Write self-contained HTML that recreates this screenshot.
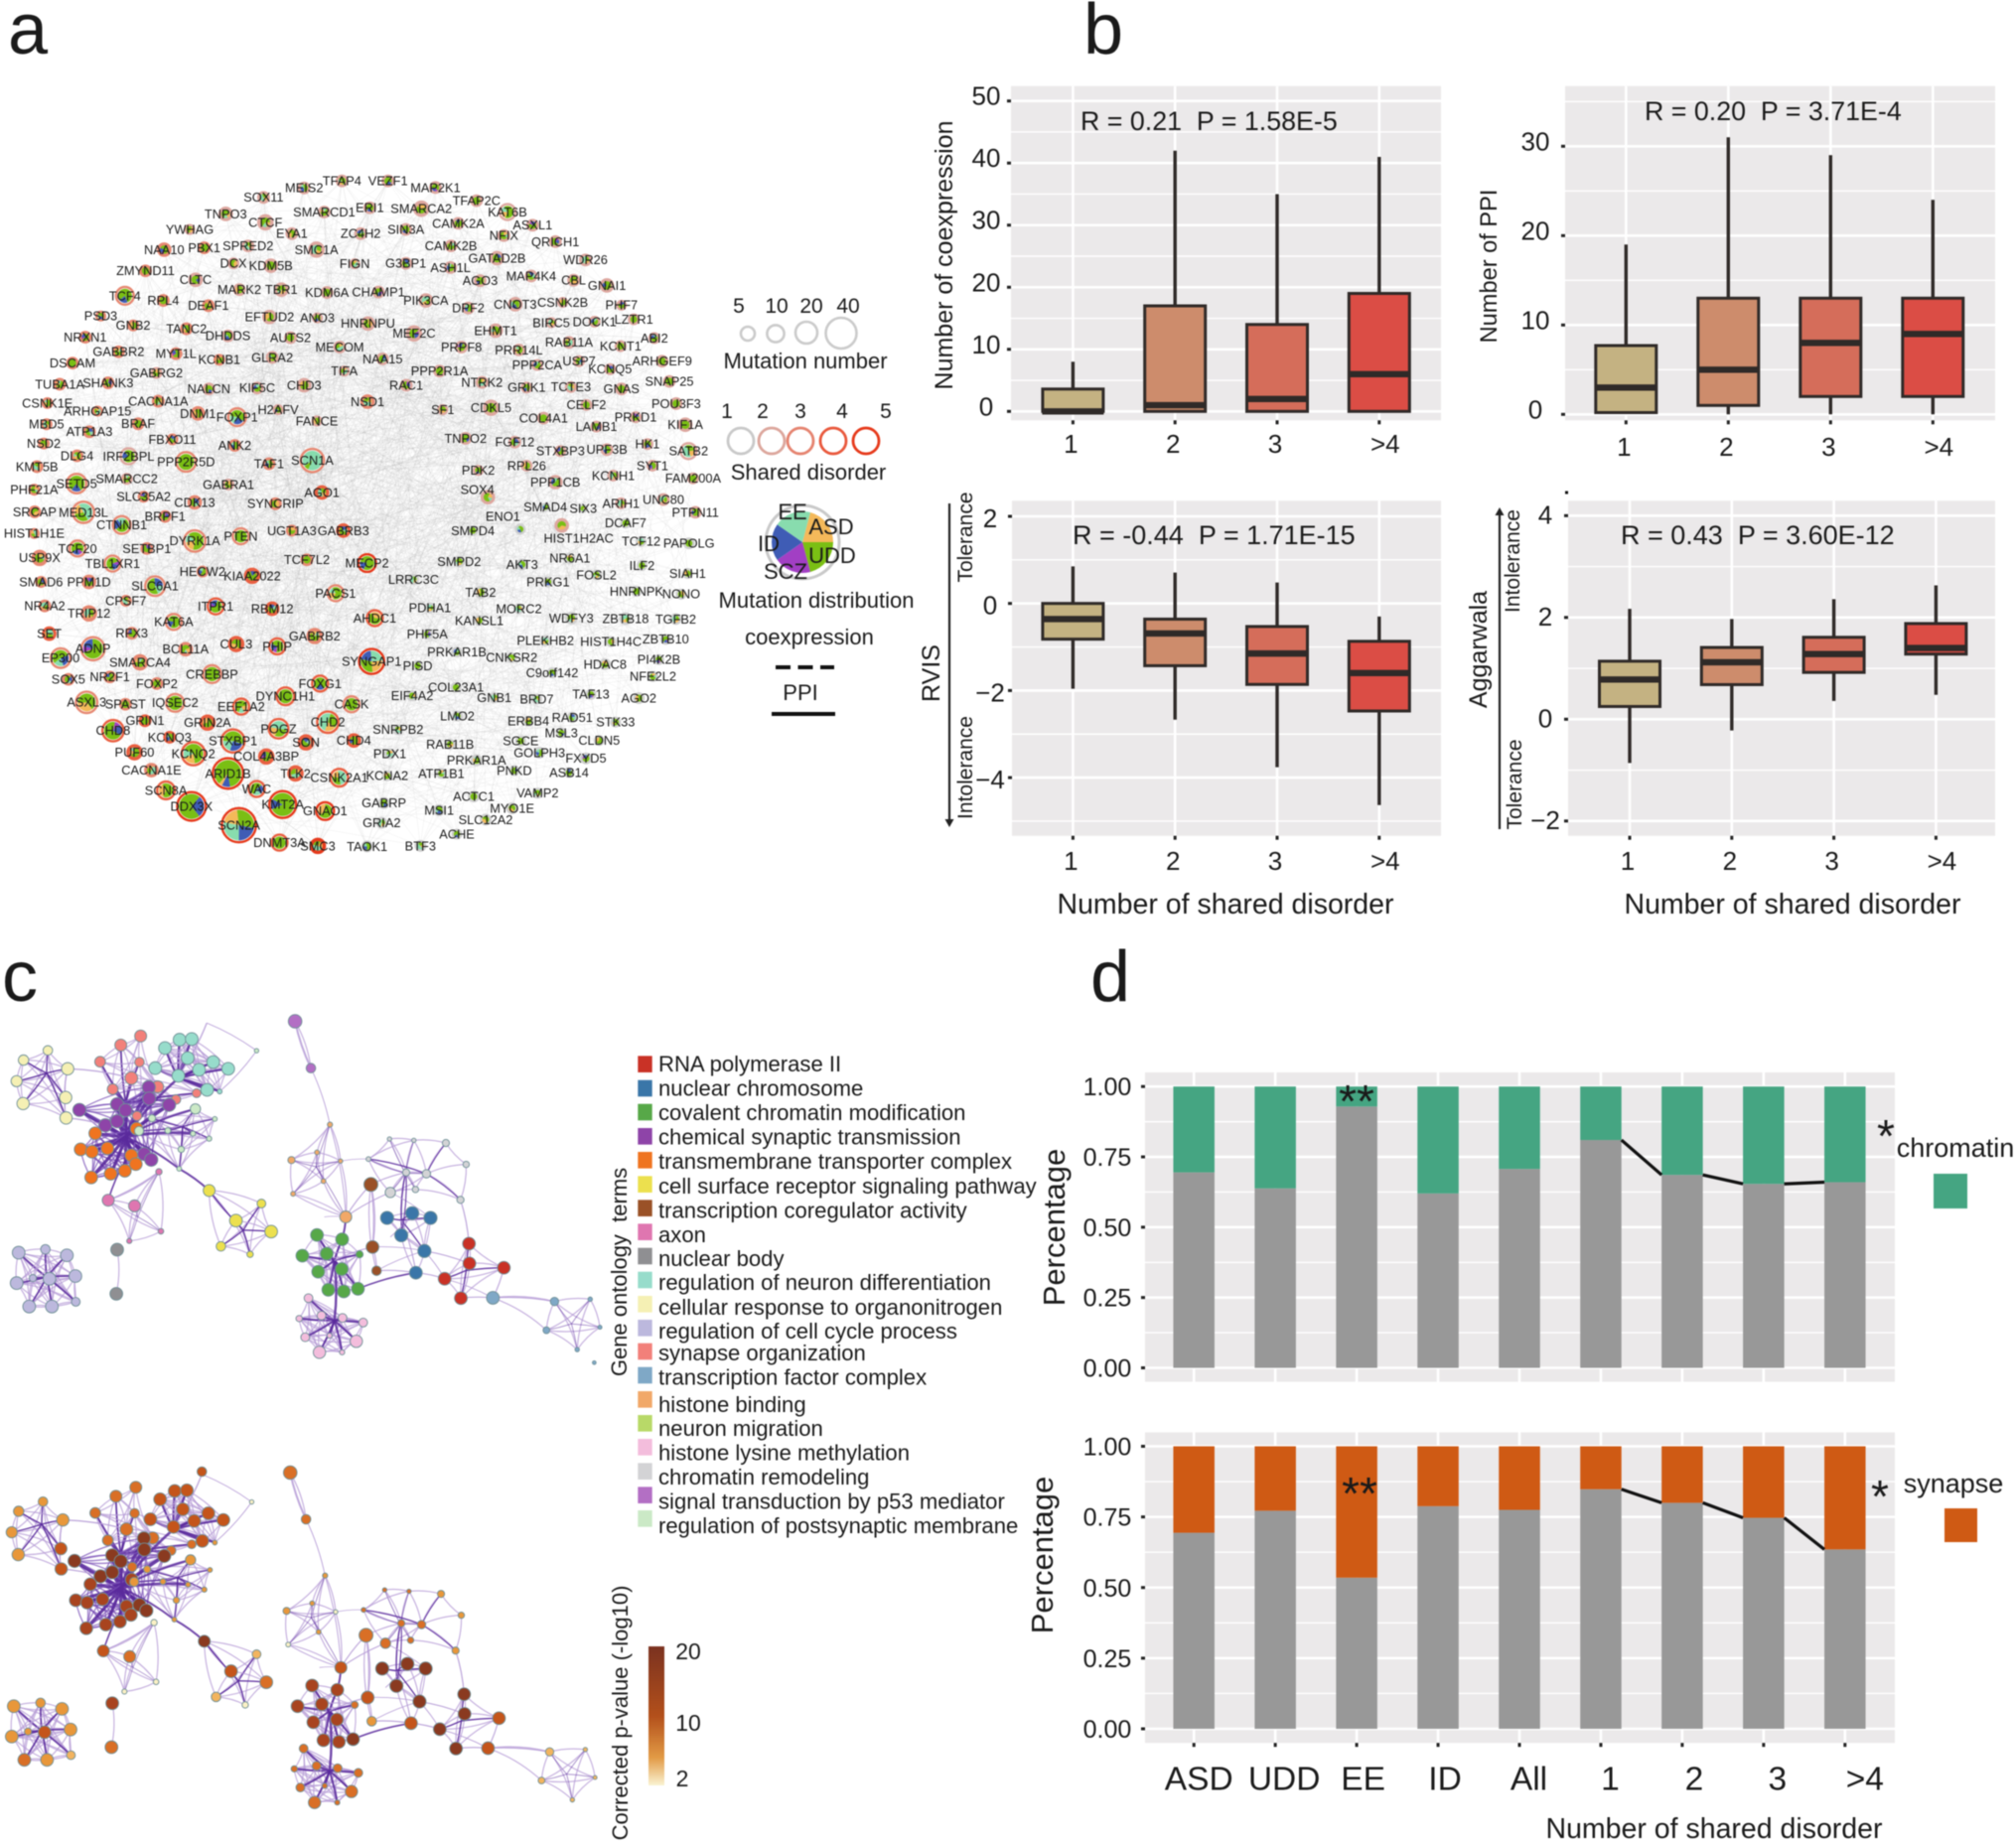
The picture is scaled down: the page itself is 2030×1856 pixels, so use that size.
<!DOCTYPE html>
<html lang="en">
<head>
<meta charset="utf-8">
<title>Multi-panel figure: shared disorder gene network, box plots, GO networks and stacked bars</title>
<style>
html,body{margin:0;padding:0;background:#fff;}
svg{display:block;font-family:"Liberation Sans",sans-serif;fill:#1a1a1a;filter:blur(0.5px);}
text{fill:#1a1a1a;}
</style>
</head>
<body>
<svg id="figure" xmlns="http://www.w3.org/2000/svg" width="2030" height="1856" viewBox="0 0 2030 1856">
<defs>
<linearGradient id="pvalue-gradient" x1="0" y1="0" x2="0" y2="1">
<stop offset="0" stop-color="#7b3220"/><stop offset="0.5" stop-color="#b3501b"/><stop offset="0.8" stop-color="#e29a45"/><stop offset="1" stop-color="#faf3d2"/>
</linearGradient>
</defs>
<rect x="0" y="0" width="2030" height="1856" fill="#ffffff"/>

<text x="8" y="54" font-size="72">a</text>
<text x="1091" y="54" font-size="72">b</text>
<text x="2" y="1008" font-size="72">c</text>
<text x="1098" y="1008" font-size="72">d</text>

<g id="gene-network"></g>

<g id="network-legend">
<text x="744" y="315" font-size="21" text-anchor="middle">5</text>
<text x="782" y="315" font-size="21" text-anchor="middle">10</text>
<text x="817" y="315" font-size="21" text-anchor="middle">20</text>
<text x="854" y="315" font-size="21" text-anchor="middle">40</text>
<circle cx="753" cy="336" r="7" fill="none" stroke="#cbcbcb" stroke-width="2.6"/>
<circle cx="781" cy="336" r="8.6" fill="none" stroke="#cbcbcb" stroke-width="2.6"/>
<circle cx="812" cy="335" r="11" fill="none" stroke="#cbcbcb" stroke-width="2.6"/>
<circle cx="847" cy="335.5" r="15.5" fill="none" stroke="#cbcbcb" stroke-width="2.6"/>
<text x="811" y="371" font-size="22" text-anchor="middle">Mutation number</text>
<text x="732" y="421" font-size="21" text-anchor="middle">1</text>
<text x="768" y="421" font-size="21" text-anchor="middle">2</text>
<text x="806" y="421" font-size="21" text-anchor="middle">3</text>
<text x="848" y="421" font-size="21" text-anchor="middle">4</text>
<text x="892" y="421" font-size="21" text-anchor="middle">5</text>
<circle cx="746" cy="444" r="13" fill="none" stroke="#c9c9c9" stroke-width="2.8"/>
<circle cx="777" cy="444" r="13" fill="none" stroke="#dca69c" stroke-width="2.8"/>
<circle cx="806" cy="444" r="13" fill="none" stroke="#e5836f" stroke-width="2.8"/>
<circle cx="839" cy="444" r="13" fill="none" stroke="#e9583c" stroke-width="2.8"/>
<circle cx="872" cy="444" r="13" fill="none" stroke="#e6391a" stroke-width="2.8"/>
<text x="814" y="483" font-size="22" text-anchor="middle">Shared disorder</text>
<circle cx="808" cy="546" r="37" fill="none" stroke="#c9c9c9" stroke-width="3"/>
<g id="legend-pie"></g>
<text x="798" y="523" font-size="22" text-anchor="middle">EE</text>
<text x="837" y="538" font-size="22" text-anchor="middle">ASD</text>
<text x="774" y="555" font-size="22" text-anchor="middle">ID</text>
<text x="838" y="567" font-size="22" text-anchor="middle">UDD</text>
<text x="791" y="583" font-size="22" text-anchor="middle">SCZ</text>
<text x="822" y="612" font-size="22" text-anchor="middle">Mutation distribution</text>
<text x="815" y="649" font-size="22" text-anchor="middle">coexpression</text>
<line x1="781" y1="672" x2="840" y2="672" stroke="#111" stroke-width="4" stroke-dasharray="15 7.5"/>
<text x="806" y="705" font-size="22" text-anchor="middle">PPI</text>
<line x1="777" y1="719" x2="841" y2="719" stroke="#111" stroke-width="4"/>
</g>

<g id="box-coex"></g>
<g id="box-ppi"></g>
<g id="box-rvis"></g>
<g id="box-agg"></g>

<text transform="translate(959,257) rotate(-90)" font-size="25" text-anchor="middle">Number of coexpression</text>
<text transform="translate(1507,268) rotate(-90)" font-size="23.6" text-anchor="middle">Number of PPI</text>
<text transform="translate(946,678) rotate(-90)" font-size="25" text-anchor="middle">RVIS</text>
<text transform="translate(1497,654) rotate(-90)" font-size="25" text-anchor="middle">Aggarwala</text>

<text x="1088" y="131" font-size="26.8">R = 0.21&#160;&#160;P = 1.58E-5</text>
<text x="1656" y="121" font-size="26.8">R = 0.20&#160;&#160;P = 3.71E-4</text>
<text x="1080" y="548" font-size="27">R = -0.44&#160;&#160;P = 1.71E-15</text>
<text x="1632" y="548" font-size="27">R = 0.43&#160;&#160;P = 3.60E-12</text>

<text x="1234" y="920" font-size="28.5" text-anchor="middle">Number of shared disorder</text>
<text x="1805" y="920" font-size="28.5" text-anchor="middle">Number of shared disorder</text>

<text transform="translate(979,541) rotate(-90)" font-size="21" text-anchor="middle">Tolerance</text>
<text transform="translate(979,773) rotate(-90)" font-size="21" text-anchor="middle">Intolerance</text>
<line x1="956" y1="507" x2="956" y2="829" stroke="#222" stroke-width="2.2"/>
<path d="M951.5 825 L956 833 L960.5 825 Z" fill="#222"/>
<text transform="translate(1530,565) rotate(-90)" font-size="21" text-anchor="middle">Intolerance</text>
<text transform="translate(1532,790) rotate(-90)" font-size="21" text-anchor="middle">Tolerance</text>
<line x1="1510" y1="515" x2="1510" y2="835" stroke="#222" stroke-width="2.2"/>
<path d="M1505.5 519 L1510 511 L1514.5 519 Z" fill="#222"/>
<rect x="1576" y="494.5" width="3" height="3" fill="#111"/>

<g id="go-network-top"></g>
<g id="go-network-bottom"></g>

<text transform="translate(631,1281) rotate(-90)" font-size="22" text-anchor="middle" xml:space="preserve">Gene ontology&#160;&#160;terms</text>
<g id="go-legend"></g>

<text transform="translate(632,1725) rotate(-90)" font-size="22" text-anchor="middle">Corrected p-value (-log10)</text>
<rect x="653" y="1658" width="16" height="140" fill="url(#pvalue-gradient)"/>
<text x="693" y="1671" font-size="23" text-anchor="middle">20</text>
<text x="693" y="1743" font-size="23" text-anchor="middle">10</text>
<text x="687" y="1799" font-size="23" text-anchor="middle">2</text>

<g id="bars-chromatin"></g>
<g id="bars-synapse"></g>
<text transform="translate(1072,1236) rotate(-90)" font-size="31" text-anchor="middle">Percentage</text>
<text transform="translate(1060,1566) rotate(-90)" font-size="31" text-anchor="middle">Percentage</text>
<text x="1726" y="1851" font-size="28.5" text-anchor="middle">Number of shared disorder</text>
<text x="1366" y="1125" font-size="46" text-anchor="middle">**</text>
<text x="1369" y="1520" font-size="46" text-anchor="middle">**</text>
<text x="1899" y="1160" font-size="46" text-anchor="middle">*</text>
<text x="1893" y="1523" font-size="46" text-anchor="middle">*</text>
<text x="1969" y="1165" font-size="27" text-anchor="middle">chromatin</text>
<rect x="1947" y="1182" width="34" height="35" fill="#45a582"/>
<text x="1967" y="1503" font-size="27" text-anchor="middle">synapse</text>
<rect x="1958" y="1519" width="33" height="34" fill="#cf5a14"/>
</svg>

<script>
/* ---------- box plot data ---------- */
const disorderCategories = ['1', '2', '3', '>4'];

const coexTicks = [0, 10, 20, 30, 40, 50];
const coexWhiskerLow = [0, 0, 0, 0];
const coexQ1 = [0, 0, 0, 0];
const coexMedian = [0, 1, 2, 6];
const coexQ3 = [3.6, 17, 14, 19];
const coexWhiskerHigh = [8, 42, 35, 41];

const ppiTicks = [0, 10, 20, 30];
const ppiWhiskerLow = [0.2, 0, 0, 0];
const ppiQ1 = [0.2, 1, 2, 2];
const ppiMedian = [3, 5, 8, 9];
const ppiQ3 = [7.7, 13, 13, 13];
const ppiWhiskerHigh = [19, 31, 29, 24];

const rvisTicks = [-4, -2, 0, 2];
const rvisWhiskerLow = [-1.96, -2.67, -3.76, -4.63];
const rvisQ1 = [-0.82, -1.43, -1.86, -2.47];
const rvisMedian = [-0.36, -0.69, -1.15, -1.6];
const rvisQ3 = [0, -0.36, -0.53, -0.87];
const rvisWhiskerHigh = [0.85, 0.71, 0.48, -0.3];

const aggTicks = [-2, 0, 2, 4];
const aggWhiskerLow = [-0.86, -0.22, 0.36, 0.48];
const aggQ1 = [0.25, 0.68, 0.92, 1.28];
const aggMedian = [0.78, 1.12, 1.28, 1.4];
const aggQ3 = [1.14, 1.41, 1.61, 1.88];
const aggWhiskerHigh = [2.17, 1.97, 2.36, 2.63];

/* ---------- stacked bar data ---------- */
const barCategories = ['ASD', 'UDD', 'EE', 'ID', 'All', '1', '2', '3', '>4'];
const barTicks = [0, 0.25, 0.5, 0.75, 1];
const chromatinGrayShare = [0.695, 0.638, 0.929, 0.62, 0.707, 0.81, 0.686, 0.654, 0.66];
const synapseGrayShare = [0.694, 0.772, 0.535, 0.788, 0.775, 0.848, 0.80, 0.747, 0.635];

/* ---------- GO legend ---------- */
const goTerms = ['RNA polymerase II', 'nuclear chromosome', 'covalent chromatin modification', 'chemical synaptic transmission', 'transmembrane transporter complex', 'cell surface receptor signaling pathway', 'transcription coregulator activity', 'axon', 'nuclear body', 'regulation of neuron differentiation', 'cellular response to organonitrogen', 'regulation of cell cycle process', 'synapse organization', 'transcription factor complex', 'histone binding', 'neuron migration', 'histone lysine methylation', 'chromatin remodeling', 'signal transduction by p53 mediator', 'regulation of postsynaptic membrane'];
const goColors = ['#c93226', '#3a76a8', '#57a848', '#8e44a8', '#ef7420', '#ece04e', '#9a5127', '#df76b0', '#8f8f92', '#97dccb', '#f5f0b4', '#bcb8dd', '#f2807a', '#7fa8c6', '#f1a868', '#b8d968', '#f3bddc', '#d3d3d5', '#b36fc4', '#cbe9c6'];
const goLegendSwatchRow = [95, 168, 240, 313, 385, 458, 530, 602, 675, 747, 820, 892, 963, 1035, 1108, 1180, 1252, 1325, 1397, 1468];
const goLegendTextRow = [95, 168, 242, 315, 388, 463, 537, 610, 682, 755, 829, 902, 968, 1041, 1123, 1196, 1269, 1342, 1416, 1489];

/* ---------- gene network: name x y ringRadius sharedLevel [labelX labelY] ---------- */
const geneNodes = ("TFAP4 750 68 14 2|MEIS2 667 83 14 2|VEZF1 851 68 14 2|MAP2K1 955 82 14 2|SOX11 578 103 14 2|TFAP2C 1045 110 14 2|ERI1 811 125 14 2|SMARCA2 924 127 18 2|KAT6B 1113 134 20 2|SMARCD1 711 134 14 2|TNPO3 495 138 16 2|CTCF 582 156 18 2|CAMK2A 1005 158 14 2|ASXL1 1168 162 14 2|YWHAG 416 171 12 2|SIN3A 890 171 14 2|ZC4H2 791 180 14 2|EYA1 640 180 14 2|NFIX 1105 184 14 2|QRICH1 1218 197 14 2|PBX1 448 210 14 3|NAA10 360 214 16 3|SPRED2 544 206 14 2|CAMK2B 989 206 14 2|SMC1A 694 214 18 2|WDR26 1284 236 14 2|GATAD2B 1090 232 16 2|DCX 512 243 13 2|KDM5B 594 248 16 2|FIGN 778 244 12 2|G3BP1 890 243 14 2|ASH1L 988 252 14 2|ZMYND11 319 259 14 3|MAP4K4 1165 270 14 2|CBL 1258 279 14 2|GNAI1 1331 290 16 2|CLTC 429 278 16 2|AGO3 1053 280 14 2|MARK2 525 299 14 2|TBR1 617 299 16 2|KDM6A 717 305 14 2|CHAMP1 830 304 14 2|TCF4 274 312 22 3|PIK3CA 934 322 16 2|RPL4 358 322 14 3|DEAF1 457 333 14 3|CNOT3 1130 330 16 2|CSNK2B 1234 326 12 2|PHF7 1363 332 12 2|DPF2 1027 338 14 2|PSD3 221 355 12 3|EFTUD2 591 357 16 2|ANO3 696 359 12 2|HNRNPU 807 371 16 2|BIRC5 1209 369 12 2|DOCK1 1304 367 13 2|LZTR1 1390 362 13 2|GNB2 292 375 13 3|TANC2 409 382 14 3|NRXN1 187 400 14 3|DHDDS 500 397 14 2|AUTS2 637 401 14 2|MEF2C 908 392 18 2|EHMT1 1087 386 16 2|ABI2 1435 402 13 2|GABBR2 260 431 14 3|MYT1L 386 435 14 3|RAB11A 1248 411 14 2|KCNT1 1361 419 13 2|PRPF8 1012 421 14 2|MECOM 745 421 14 2|PRR14L 1138 427 14 2|KCNB1 481 448 13 3|GLRA2 597 443 14 2|NAA15 839 446 14 2|DSCAM 159 455 14 3|PPP2CA 1178 459 13 2|USP7 1270 451 13 2|ARHGEF9 1452 451 14 2|KCNQ5 1338 468 13 2|TIFA 755 472 12 2|GABRG2 343 476 13 2|PPP2R1A 964 472 14 2|SNAP25 1468 494 14 2|TUBA1A 131 500 14 3|SHANK3 237 497 14 3|CHD3 667 502 16 2|NTRK2 1057 496 14 2|RAC1 891 502 14 2|KIF5C 564 508 14 2|NALCN 458 510 14 2|GRIK1 1155 507 13 2|TCTE3 1252 506 13 2|GNAS 1363 510 14 2|CSNK1E 104 540 13 3|CACNA1A 347 536 14 3|NSD1 806 537 16 3|CDKL5 1077 550 18 2|CELF2 1286 544 13 2|POU3F3 1483 541 14 2|ARHGAP15 214 557 12 3|DNM1 434 562 16 3|FOXP1 520 570 22 3|H2AFV 610 554 12 2|SF1 971 554 12 2|COL4A1 1192 572 14 2|PRKD1 1394 570 13 2|MBD5 102 585 13 3|BRAF 303 584 14 3|ATP1A3 196 601 14 3|FANCE 695 578 12 2|KIF1A 1503 586 16 2|LAMB1 1308 590 13 2|FBXO11 378 617 13 3|NSD2 96 626 13 3|ANK2 515 630 14 3|TNPO2 1021 615 14 2|FGF12 1129 623 14 2|HK1 1420 627 13 2|STXBP3 1229 642 13 2|UPF3B 1331 639 14 2|SATB2 1510 642 20 2|DLG4 169 652 14 3|IRF2BPL 282 653 20 2|PPP2R5D 408 665 24 3|SCN1A 685 662 28 3|TAF1 590 669 14 3|KMT5B 81 675 14 3|RPL26 1155 673 13 2|PDK2 1049 683 12 2|SYT1 1431 673 13 2|FAM200A 1520 700 13 2|PHF21A 75 724 13 3|SETD5 168 711 24 3|SMARCC2 278 701 13 2|KCNH1 1345 694 13 2|PPP1CB 1218 708 16 2|GABRA1 501 713 13 2|SOX4 1070 740 16 2 1047 724|AGO1 706 730 16 4|SLC35A2 315 739 13 3|CDK13 427 751 16 3|SRCAP 76 771 14 3|MED13L 183 772 26 3|SYNCRIP 604 754 14 3|ARIH1 1362 753 13 2|UNC80 1455 745 14 2|PTPN11 1525 772 14 2|SMAD4 1196 761 10 1|SIX3 1279 764 10 1|ENO1 1141 808 12 1 1103 781|BRPF1 362 781 14 3|CTNNB1 267 799 22 3|DCAF7 1372 795 12 1|HIST1H1E 75 817 12 3|SMPD4 1037 811 12 1|HIST1H2AC 1232 800 16 2 1269 827|DYRK1A 427 833 26 3|PTEN 528 823 20 3|UGT1A3 640 811 13 3|GABRB3 753 811 16 4|TCF12 1406 834 12 1|PAPOLG 1511 838 13 1|TCF20 170 849 20 3|SETBP1 322 849 14 3|USP9X 87 869 18 3|MECP2 805 880 22 5|TCF7L2 673 873 14 3|SMPD2 1007 877 13 1|AKT3 1145 883 13 1|NR6A1 1250 870 12 1|TBL1XR1 247 881 20 3|ILF2 1408 885 12 1|FOSL2 1308 905 12 1|SIAH1 1508 902 12 1|PRKG1 1202 920 12 1|HECW2 444 898 13 3|KIAA2022 553 907 18 4|LRRC3C 907 915 12 1|SLC6A1 340 929 24 3|SMAD6 90 920 13 3|PPM1D 195 920 16 3|PACS1 736 944 20 3|TAB2 1054 942 14 1|HNRNPK 1396 940 12 1|NONO 1494 946 12 1|CPSF7 276 960 13 3|NR4A2 98 971 14 3|ITPR1 473 972 20 4|RBM12 597 977 16 4|TRIP12 195 987 18 3|PDHA1 943 975 12 1|MORC2 1138 977 12 1|KANSL1 1051 1002 12 1|KAT6A 381 1005 20 3|AHDC1 822 997 20 4|WDFY3 1253 997 14 1|ZBTB18 1372 998 14 1|TGFB2 1482 999 13 1|SET 108 1030 16 4|RFX3 289 1029 14 3|GABRB2 690 1035 18 3|PHF5A 937 1031 12 1|CUL3 518 1052 18 4|PHIP 608 1057 20 4|ADNP 204 1062 28 3|BCL11A 407 1063 16 3|PLEKHB2 1196 1045 12 1|HIST1H4C 1340 1047 12 1|ZBTB10 1460 1042 12 1|EP300 133 1082 24 3|SMARCA4 307 1091 18 3|SYNGAP1 815 1089 30 5|PRKAR1B 1002 1069 12 1|CNKSR2 1122 1081 12 1|PI4K2B 1445 1085 12 1|PISD 916 1098 12 1|CREBBP 465 1116 22 3|HDAC8 1327 1095 13 1|SOX5 150 1127 14 3|NR2F1 241 1122 14 3|C9orf142 1211 1113 12 1|NFE2L2 1432 1121 12 1|FOXP2 344 1136 14 3|FOXG1 702 1136 20 4|DYNC1H1 626 1163 22 4|COL23A1 1000 1144 12 1|EIF4A2 904 1162 12 1|TAF13 1296 1159 12 1|ASXL3 190 1176 26 3|SPAST 275 1180 14 3|IQSEC2 384 1177 22 3|CASK 771 1180 20 3|AGO2 1401 1167 13 1|GNB1 1084 1166 12 1|BRD7 1177 1169 12 1|EEF1A2 529 1185 20 4|LMO2 1003 1205 12 1|GRIN1 318 1215 14 4|GRIN2A 455 1219 18 4|CHD2 719 1218 26 4|POGZ 611 1232 24 4|CHD8 248 1236 26 4|ERBB4 1159 1216 12 1|RAD51 1255 1208 12 1|STK33 1350 1218 12 1|SNRPB2 873 1234 12 1|MSL3 1231 1241 12 1|KCNQ3 372 1250 14 4|STXBP1 511 1258 28 4|CHD4 776 1257 16 4|SON 671 1261 18 4|SGCE 1142 1258 12 1|CLDN5 1314 1257 12 1|RAB11B 987 1265 12 1|PUF60 295 1282 18 4|KCNQ2 424 1285 28 4|PDX1 855 1285 12 1|GOLPH3 1183 1283 13 1|FXYD5 1285 1295 13 1|COL4A3BP 584 1291 18 4|PRKAR1A 1045 1299 13 1|CACNA1E 332 1320 16 3|ARID1B 500 1327 36 5|PNKD 1128 1321 12 1|ASB14 1248 1325 12 1|TLK2 648 1327 18 4|CSNK2A1 744 1336 22 4|KCNA2 849 1332 12 1|ATP1B1 968 1327 12 1|SCN8A 364 1363 22 4|WAC 563 1360 20 4|ACTC1 1039 1376 13 1|VAMP2 1179 1369 12 1|DDX3X 420 1397 34 5|KMT2A 620 1393 32 5|GNAO1 713 1407 22 5|GABRP 842 1390 13 1|MSI1 963 1405 13 1|MYO1E 1123 1401 13 1|SCN2A 524 1437 40 5|GRIA2 837 1432 13 1|SLC12A2 1065 1425 13 1|ACHE 1002 1456 12 1|DNMT3A 613 1474 20 4|SMC3 697 1481 18 5|TAOK1 805 1482 13 1|BTF3 922 1481 13 1").split('|').map(s => s.split(' '));

const sharedLevelColors = ['#cfcfcf', '#dda79f', '#e68872', '#e95f41', '#e63a1c'];
const disorderColors = { asd: '#f4b95a', udd: '#7abf14', scz: '#a23fc4', id: '#3f5cb5', ee: '#88dcae' };
const legendPieDegrees = [75, 75, 70, 70, 70];
const legendPieOrder = ['asd', 'udd', 'scz', 'id', 'ee'];
const piePresets = [
  [['udd', 0.8], ['id', 0.2]],
  [['udd', 0.65], ['asd', 0.2], ['ee', 0.15]],
  [['udd', 0.55], ['id', 0.25], ['ee', 0.2]],
  [['udd', 1]],
  [['udd', 0.7], ['scz', 0.1], ['id', 0.2]],
  [['ee', 0.5], ['udd', 0.3], ['asd', 0.2]],
  [['asd', 0.35], ['udd', 0.65]]
];
const pieOverrides = {
  SCN2A: [['asd', 0.2], ['udd', 0.3], ['id', 0.22], ['ee', 0.28]],
  SCN1A: [['ee', 0.92], ['udd', 0.08]],
  SYNGAP1: [['asd', 0.25], ['udd', 0.3], ['id', 0.2], ['ee', 0.25]],
  ARID1B: [['udd', 0.86], ['id', 0.1], ['asd', 0.04]],
  DDX3X: [['udd', 0.72], ['id', 0.28]],
  KMT2A: [['udd', 0.86], ['id', 0.14]]
};

/* ---------- GO networks: zoomed layout units, each node [x, y, radius?, bottomColor?] ---------- */
const P = { d: '#8a3a20', c: '#a8441f', b: '#c4551b', o: '#d96f26', l: '#e8973a', y: '#f2b45f', p: '#fbf1c5' };
const goClusters = [
  { term: 9, base: P.b, r: 6.4, hub: [440, 225], hw: 2.2, reach: 180, nodes: [[443, 110], [473, 108], [407, 135], [463, 165], [383, 195], [440, 218], [491, 200], [526, 177], [563, 197], [511, 260], [542, 265, 2.4, P.l]] },
  { term: 12, base: P.o, r: 6, hub: [310, 300], hw: 1.8, reach: 200, nodes: [[347, 99], [298, 126], [344, 177, 4.8], [247, 176, 5.4], [324, 225, 6.4], [278, 258, 5.4], [389, 251, 6], [485, 270, 4.4], [434, 289, 4.8], [338, 338, 4.8]] },
  { term: 3, base: P.d, r: 6.6, hub: [310, 400], hw: 3.4, mid: 1, nodes: [[196, 320], [289, 303], [310, 321], [367, 252], [368, 286], [417, 305], [260, 366], [289, 354], [356, 452], [373, 469]] },
  { term: 4, base: P.c, r: 6.4, hub: [310, 400], hw: 3.2, mid: 1, nodes: [[235, 390], [199, 438], [227, 445], [265, 435], [337, 376], [324, 456], [335, 482], [308, 502], [273, 511], [225, 522]] },
  { term: 10, base: P.l, r: 6.2, hub: [115, 210], hw: 1.4, nodes: [[118, 142, 4.8], [58, 171, 5.2], [167, 197], [41, 234, 5.6], [162, 283, 6.2, P.b], [57, 301], [163, 344, 6.2, P.b]] },
  { term: 19, base: P.l, r: 3.2, hub: [450, 370], hw: 1.3, reach: 170, nodes: [[482, 317, 5.2], [375, 345, 3.6], [343, 383, 4.6], [414, 382, 3], [476, 391, 2.6], [516, 406, 2.6], [447, 438, 3.2], [442, 496, 2.4], [530, 347, 2.4], [633, 143, 2.2, P.p]] },
  { term: 7, base: P.l, r: 3.2, hub: [340, 640], hw: 0.8, nodes: [[392, 505, 3.2, P.p], [267, 590, 6, P.b], [332, 607, 6, P.o], [397, 683, 2.8, P.p], [319, 712, 2.6, P.p]] },
  { term: 5, base: P.b, r: 5, hub: [600, 680], hw: 1.4, nodes: [[516, 561, 6, P.d], [645, 600, 4.4, P.y], [582, 651, 6.4, P.b], [669, 684, 6.4, P.o], [545, 728, 4.8, P.y], [617, 752, 3.2, P.p]] },
  { term: 11, base: P.l, r: 6.4, hub: [115, 820], hw: 1.8, up: 112, nodes: [[46, 747], [112, 737, 4.8], [165, 755], [186, 817], [41, 838], [81, 823, 3.6], [122, 825, 6.4, P.b], [72, 908, 6.4, P.o], [128, 908, 6.4], [187, 894, 4.4, P.y]] },
  { term: 8, base: P.c, r: 6.4, up: 112, nodes: [[289, 738], [287, 870, 6.4, P.o]] },
  { term: 18, base: P.o, r: 6, nodes: [[728, 55, 6.8], [767, 195, 4.8]] },
  { term: 14, base: P.l, r: 3, hub: [780, 490], hw: 0.9, reach: 170, nodes: [[814, 364, 2.6], [719, 470, 3.6], [782, 447, 2.4], [840, 473, 2.2, P.p], [798, 533, 2.4], [723, 571, 2.4, P.p], [853, 640, 6, P.b]] },
  { term: 17, base: P.o, r: 3, hub: [1000, 510], hw: 1.1, reach: 130, nodes: [[961, 407, 2.2], [1021, 411, 2.2], [1100, 419, 3.6, P.l], [909, 467, 2.4], [1150, 483, 3.2, P.l], [1002, 507, 3.6], [1052, 511, 4.2], [963, 567, 5.2, P.o], [1025, 558, 3.2], [1136, 589, 3.6, P.l]] },
  { term: 6, base: P.b, r: 5.5, nodes: [[915, 543, 7, P.o], [919, 730, 6.4, P.b], [929, 801, 4.8, P.l]] },
  { term: 1, base: P.d, r: 6.6, hub: [990, 650], hw: 1.3, reach: 150, nodes: [[955, 643], [1017, 629], [1062, 643], [990, 695], [1047, 742], [1026, 807, 6.4, P.b]] },
  { term: 2, base: P.c, r: 6.4, hub: [825, 770], hw: 2, nodes: [[782, 694], [844, 707], [746, 756], [806, 750], [887, 752, 3.6, P.o], [785, 804], [843, 796], [810, 858], [848, 863], [883, 855, 6.4, P.d]] },
  { term: 0, base: P.d, r: 6.4, hub: [1150, 800], hw: 1.4, nodes: [[1157, 720], [1158, 779], [1243, 792, 6.4, P.b], [1097, 825], [1137, 883]] },
  { term: 13, base: P.y, r: 3, hub: [1410, 960], hw: 0.9, reach: 170, nodes: [[1216, 882, 6.4, P.b], [1368, 893, 4.2], [1456, 886, 2.2], [1348, 979, 3.4], [1424, 1037, 2.2], [1480, 970, 2]] },
  { term: 16, base: P.o, r: 4.4, hub: [825, 950], hw: 2, nodes: [[761, 883], [738, 944, 3.2], [793, 935], [845, 942], [896, 956], [753, 1000], [813, 995, 2.6], [879, 1012, 6.2], [788, 1045, 6.2], [844, 1045, 2.6]] }
];
const goLinks = [
  [442, 496, 516, 561, 2, 1], [767, 195, 728, 55, 2, 0], [767, 195, 814, 364, 1, 0], [814, 364, 853, 640, 1, 0],
  [1216, 882, 1368, 893, 1.3, 0], [1136, 589, 1157, 720, 1.3, 0], [883, 855, 1026, 807, 1.6, 1], [1026, 807, 1097, 825, 1.2, 0],
  [853, 640, 844, 707, 2, 1], [853, 640, 915, 543, 1.2, 0], [915, 543, 919, 730, 1.2, 0], [167, 197, 324, 225, 1.3, 0],
  [510, 60, 633, 143, 1, 0], [633, 143, 542, 265, 1, 0], [510, 60, 440, 218, 1.4, 0], [163, 344, 260, 366, 1.3, 0],
  [392, 505, 267, 590, 1.2, 0], [310, 400, 440, 225, 2.6, 1], [310, 400, 470, 390, 2.6, 1], [310, 400, 375, 345, 2, 1],
  [310, 400, 442, 496, 2, 1], [310, 400, 482, 317, 2, 1], [310, 300, 310, 400, 2.4, 1], [267, 590, 310, 470, 1.6, 1],
  [825, 770, 825, 950, 2.4, 1], [825, 770, 919, 730, 1.2, 0], [990, 650, 1026, 807, 1.2, 0], [990, 650, 1000, 510, 1.6, 1],
  [1047, 742, 1157, 779, 1.1, 0], [1097, 825, 1216, 882, 1, 0], [1137, 883, 1216, 882, 1.2, 0], [1243, 792, 1216, 882, 1.2, 0],
  [853, 640, 963, 567, 1.1, 0], [929, 801, 1026, 807, 1.2, 0], [909, 467, 1052, 511, 1.4, 1], [1052, 511, 1136, 589, 1.2, 1],
  [1052, 511, 1100, 419, 1.2, 1], [840, 473, 909, 467, 0.8, 0], [963, 567, 1062, 643, 0.9, 0], [853, 640, 723, 571, 1, 0],
  [800, 640, 853, 640, 0.8, 0], [1047, 742, 1097, 825, 1, 0], [1017, 629, 963, 700, 1, 0], [915, 543, 1002, 507, 1.1, 0],
  [1062, 643, 1047, 742, 1, 0], [1002, 507, 990, 695, 1.2, 1], [929, 801, 1047, 742, 0.9, 0], [919, 730, 1047, 742, 0.9, 0]
];

/* ---------- helpers ---------- */
const NS = 'http://www.w3.org/2000/svg';
function make(tag, attrs, parent, content) {
  const node = document.createElementNS(NS, tag);
  for (const key in attrs) node.setAttribute(key, attrs[key]);
  if (content !== undefined) node.textContent = content;
  parent.appendChild(node);
  return node;
}
function slug(v) { return String(v).replace(/>/g, 'gt').replace(/[^A-Za-z0-9]+/g, '-').toLowerCase(); }
function linearScale(v0, p0, v1, p1) { return v => p0 + (v - v0) * (p1 - p0) / (v1 - v0); }
function sector(cx, cy, r, a0, a1) {
  if (a1 - a0 >= 359.99) return 'M' + (cx - r) + ' ' + cy + 'a' + r + ' ' + r + ' 0 1 0 ' + (2 * r) + ' 0a' + r + ' ' + r + ' 0 1 0 ' + (-2 * r) + ' 0Z';
  const t0 = a0 * Math.PI / 180, t1 = a1 * Math.PI / 180;
  const x0 = cx + r * Math.sin(t0), y0 = cy - r * Math.cos(t0);
  const x1 = cx + r * Math.sin(t1), y1 = cy - r * Math.cos(t1);
  return 'M' + cx + ' ' + cy + 'L' + x0.toFixed(2) + ' ' + y0.toFixed(2) + 'A' + r + ' ' + r + ' 0 ' + (a1 - a0 > 180 ? 1 : 0) + ' 1 ' + x1.toFixed(2) + ' ' + y1.toFixed(2) + 'Z';
}

/* ---------- box plot panels ---------- */
const boxFill = ['#c4b282', '#cd8c6c', '#d56d5a', '#db4d45'];
const INK = '#2f2a28';
function drawBoxPanel(cfg) {
  const g = document.getElementById(cfg.id);
  const y = linearScale(cfg.v0, cfg.p0, cfg.v1, cfg.p1);
  const x = i => cfg.xStart + i * cfg.xStep;
  const bg = make('rect', { x: cfg.left, y: cfg.top, width: cfg.right - cfg.left, height: cfg.bottom - cfg.top, fill: '#ebe9ea' }, g);
  
  
  const step = cfg.ticks[1] - cfg.ticks[0];
  for (let t = cfg.ticks[0] - step * 1.5; t <= cfg.ticks[cfg.ticks.length - 1] + step * 1.5; t += step) {
    const py = y(t);
    if (py < cfg.top || py > cfg.bottom) continue;
    const minor = make('line', { x1: cfg.left, x2: cfg.right, y1: py, y2: py, stroke: '#fff', 'stroke-width': 1.4 }, g);
    
    
  }
  cfg.ticks.forEach(t => {
    const major = make('line', { x1: cfg.left, x2: cfg.right, y1: y(t), y2: y(t), stroke: '#fff', 'stroke-width': 2.6 }, g);
    
    
    const tick = make('line', { x1: cfg.left - 4, x2: cfg.left, y1: y(t), y2: y(t), stroke: '#222', 'stroke-width': 3 }, g);
    
    
    const label = make('text', { x: cfg.labelX, y: y(t) + cfg.labelDy + 9, 'font-size': 26, 'text-anchor': 'middle' }, g, t < 0 ? '\u2212' + (-t) : String(t));
    
    
  });
  const labelShift = [-2, -2, -2, 6];
  disorderCategories.forEach((cat, i) => {
    const cx = x(i);
    const grid = make('line', { x1: cx, x2: cx, y1: cfg.top, y2: cfg.bottom, stroke: '#fff', 'stroke-width': 2.6 }, g);
    
    
    const tick = make('line', { x1: cx, x2: cx, y1: cfg.bottom, y2: cfg.bottom + 4, stroke: '#222', 'stroke-width': 3 }, g);
    
    
    const label = make('text', { x: cx + labelShift[i], y: cfg.xLabelY, 'font-size': 26, 'text-anchor': 'middle' }, g, cat);
    
    
  });
  disorderCategories.forEach((cat, i) => {
    const cx = x(i);
    const whisker = make('line', { x1: cx, x2: cx, y1: y(cfg.hi[i]), y2: y(cfg.lo[i]), stroke: INK, 'stroke-width': 3.4 }, g);
    
    
    const box = make('rect', { x: cx - cfg.boxW / 2 + 1.5, y: y(cfg.q3[i]), width: cfg.boxW - 3, height: y(cfg.q1[i]) - y(cfg.q3[i]), fill: boxFill[i], stroke: INK, 'stroke-width': 3 }, g);
    
    
    const med = make('line', { x1: cx - cfg.boxW / 2 + 1, x2: cx + cfg.boxW / 2 - 1, y1: y(cfg.med[i]), y2: y(cfg.med[i]), stroke: INK, 'stroke-width': 6.4 }, g);
    
    
  });
}
drawBoxPanel({ id: 'box-coex', key: 'coexpression', left: 1018, right: 1451, top: 86.7, bottom: 423.3, v0: 0, p0: 414.3, v1: 50, p1: 101.7, xStart: 1080.4, xStep: 102.8, boxW: 64, labelX: 993, labelDy: -5, xLabelY: 456, ticks: coexTicks, lo: coexWhiskerLow, q1: coexQ1, med: coexMedian, q3: coexQ3, hi: coexWhiskerHigh });
drawBoxPanel({ id: 'box-ppi', key: 'ppi', left: 1576, right: 2009, top: 86.7, bottom: 423.3, v0: 0, p0: 417.3, v1: 30, p1: 147.3, xStart: 1637.3, xStep: 103, boxW: 64, labelX: 1546, labelDy: -5, xLabelY: 459, ticks: ppiTicks, lo: ppiWhiskerLow, q1: ppiQ1, med: ppiMedian, q3: ppiQ3, hi: ppiWhiskerHigh });
drawBoxPanel({ id: 'box-rvis', key: 'rvis', left: 1019, right: 1451, top: 504.3, bottom: 841.7, v0: 0, p0: 607.7, v1: 2, p1: 520, xStart: 1080.4, xStep: 102.8, boxW: 64, labelX: 997, labelDy: 2, xLabelY: 876, ticks: rvisTicks, lo: rvisWhiskerLow, q1: rvisQ1, med: rvisMedian, q3: rvisQ3, hi: rvisWhiskerHigh });
drawBoxPanel({ id: 'box-agg', key: 'aggarwala', left: 1579, right: 2009, top: 504.3, bottom: 841.7, v0: 0, p0: 724.3, v1: 4, p1: 519.3, xStart: 1641, xStep: 102.8, boxW: 64, labelX: 1556, labelDy: -1, xLabelY: 876, ticks: aggTicks, lo: aggWhiskerLow, q1: aggQ1, med: aggMedian, q3: aggQ3, hi: aggWhiskerHigh });

/* ---------- stacked bar panels ---------- */
function drawBarPanel(cfg) {
  const g = document.getElementById(cfg.id);
  const y = linearScale(0, cfg.p0, 1, cfg.p1);
  const x = i => 1202.2 + i * 81.95;
  const barW = 41.5;
  const bg = make('rect', { x: 1153, y: cfg.top, width: 755, height: cfg.bottom - cfg.top, fill: '#ebe9ea' }, g);
  
  
  [0.125, 0.375, 0.625, 0.875].forEach(t => {
    const minor = make('line', { x1: 1153, x2: 1908, y1: y(t), y2: y(t), stroke: '#fff', 'stroke-width': 1.4 }, g);
    
    
  });
  barTicks.forEach(t => {
    const major = make('line', { x1: 1153, x2: 1908, y1: y(t), y2: y(t), stroke: '#fff', 'stroke-width': 2.6 }, g);
    
    
    const tick = make('line', { x1: 1149, x2: 1153, y1: y(t), y2: y(t), stroke: '#222', 'stroke-width': 3 }, g);
    
    
    const label = make('text', { x: 1115, y: y(t) + 9, 'font-size': 25, 'text-anchor': 'middle' }, g, t.toFixed(2));
    
    
  });
  const labelShift = [5, 9, 6.5, 7, 9.5, 9.5, 12, 14, 20];
  barCategories.forEach((cat, i) => {
    const grid = make('line', { x1: x(i), x2: x(i), y1: cfg.top, y2: cfg.bottom, stroke: '#fff', 'stroke-width': 2.6 }, g);
    
    
    if (cfg.showX) {
      const tick = make('line', { x1: x(i), x2: x(i), y1: cfg.bottom, y2: cfg.bottom + 4, stroke: '#222', 'stroke-width': 3 }, g);
      
      
      const label = make('text', { x: x(i) + labelShift[i], y: 1802.5, 'font-size': 33.5, 'text-anchor': 'middle' }, g, cat);
      
      
    }
  });
  barCategories.forEach((cat, i) => {
    const share = cfg.values[i];
    const gray = make('rect', { x: x(i) - barW / 2, y: y(share), width: barW, height: y(0) - y(share), fill: '#989898' }, g);
    
    
    const top = make('rect', { x: x(i) - barW / 2, y: y(1), width: barW, height: y(share) - y(1), fill: cfg.color }, g);
    
    
  });
  const firstLinked = barCategories.indexOf('1');
  for (let i = firstLinked; i < barCategories.length - 1; i++) {
    const seg = make('line', { x1: x(i) + barW / 2, y1: y(cfg.values[i]), x2: x(i + 1) - barW / 2, y2: y(cfg.values[i + 1]), stroke: '#111', 'stroke-width': 3.2 }, g);
    
    
  }
}
drawBarPanel({ id: 'bars-chromatin', key: 'chromatin', top: 1080, bottom: 1391.5, p0: 1377.5, p1: 1094.2, color: '#45a582', values: chromatinGrayShare, showX: false });
drawBarPanel({ id: 'bars-synapse', key: 'synapse', top: 1442.5, bottom: 1755.2, p0: 1741, p1: 1456.5, color: '#cf5a14', values: synapseGrayShare, showX: true });

/* ---------- legend pie ---------- */
(function () {
  const g = document.getElementById('legend-pie');
  let a = 15;
  legendPieDegrees.forEach((deg, i) => {
    const slice = make('path', { d: sector(808, 546, 31, a, a + deg), fill: disorderColors[legendPieOrder[i]] }, g);
    
    
    a += deg;
  });
})();

/* ---------- gene network ---------- */
(function () {
  const g = document.getElementById('gene-network');
  const px = v => +v / 2.178;
  const py = v => 150 + +v / 2.11;
  const n = geneNodes.length;
  const buckets = ['', '', '', '', '', '', '', ''];
  geneNodes.forEach((d, i) => {
    const level = +d[4];
    const deg = level * 2 + 2;
    for (let j = 0; j < deg; j++) {
      const k = (i * 31 + (j + 1) * (j + 1) * 17 + j * 59) % n;
      if (k === i) continue;
      const e = geneNodes[k];
      buckets[i % 8] += 'M' + px(d[1]).toFixed(1) + ' ' + py(d[2]).toFixed(1) + 'L' + px(e[1]).toFixed(1) + ' ' + py(e[2]).toFixed(1);
    }
  });
  buckets.forEach(b => {
    const p = make('path', { d: b, fill: 'none', stroke: '#a0a0a0', 'stroke-width': 0.5, opacity: 0.17 }, g);
    
    
  });
  const labels = [];
  geneNodes.forEach(d => {
    const name = d[0], cx = px(d[1]), cy = py(d[2]), R = +d[3] / 2.178, level = +d[4];
    const big = R >= 8.5;
    const ring = make('circle', { cx: cx, cy: cy, r: big ? R - 1.2 : R - 0.6, fill: big ? '#fff' : sharedLevelColors[level - 1], stroke: sharedLevelColors[level - 1], 'stroke-width': big ? 2.4 : 1.2 }, g);
    
    
    let code = 0;
    for (let c = 0; c < name.length; c++) code += name.charCodeAt(c);
    const parts = pieOverrides[name] || piePresets[code % piePresets.length];
    const inner = big ? R - 3 : Math.max(1.6, R * 0.58);
    let a = (code * 47) % 360;
    parts.forEach(part => {
      const s = make('path', { d: sector(cx, cy, inner, a, a + part[1] * 360), fill: disorderColors[part[0]] }, g);
      
      
      a += part[1] * 360;
    });
    labels.push(d);
  });
  labels.forEach(d => {
    const lx = d[5] ? px(d[5]) : px(d[1]);
    const ly = d[6] ? py(d[6]) : py(d[2]);
    const t = make('text', { x: lx, y: ly + 4.4, 'font-size': 12.8, 'text-anchor': 'middle' }, g, d[0]);
    
    
  });
})();

/* ---------- GO networks ---------- */
function drawGoNetwork(groupId, bottom) {
  const g = document.getElementById(groupId);
  const X = v => (bottom ? (v - 12) : v) / 2.45;
  const Y = (v, up) => bottom ? 1430 + (v + (up || 103)) / 2.98 : 1010 + v / 2.97;
  const LIGHT = '#b59bd6', MID = '#7d54b8', DARK = '#5a2a9c';
  const edge = (x1, y1, x2, y2, up, w, color, bend, op) => {
    const ax = X(x1), ay = Y(y1, up), bx = X(x2), by = Y(y2, up);
    const mx = (ax + bx) / 2 + (by - ay) * bend, my = (ay + by) / 2 - (bx - ax) * bend;
    const p = make('path', { d: 'M' + ax.toFixed(1) + ' ' + ay.toFixed(1) + 'Q' + mx.toFixed(1) + ' ' + my.toFixed(1) + ' ' + bx.toFixed(1) + ' ' + by.toFixed(1), fill: 'none', stroke: color, 'stroke-width': w, opacity: op }, g);
    
    
  };
  goClusters.forEach(c => {
    const ns = c.nodes;
    const reach = c.reach || 1e9;
    const near = (a, b) => Math.hypot(a[0] - b[0], a[1] - b[1]) <= reach;
    for (let i = 0; i < ns.length; i++) {
      for (let j = i + 1; j < ns.length; j++) {
        if (!near(ns[i], ns[j])) continue;
        edge(ns[i][0], ns[i][1], ns[j][0], ns[j][1], c.up, c.mid ? 1.3 : 1.25, c.mid ? MID : LIGHT, (i + j) % 2 ? 0.1 : -0.1, 0.75);
      }
      if (c.hub && near(c.hub, ns[i])) edge(c.hub[0], c.hub[1], ns[i][0], ns[i][1], c.up, c.hw, DARK, 0.03, c.hw > 1.2 ? 0.9 : 0.55);
    }
  });
  goLinks.forEach(l => {
    edge(l[0], l[1], l[2], l[3], 103, l[4], l[5] ? DARK : LIGHT, 0.06, l[5] ? 0.85 : 0.85);
  });
  goClusters.forEach(c => {
    c.nodes.forEach(nd => {
      const color = bottom ? (nd[3] || c.base) : goColors[c.term];
      const r = nd[2] || c.r;
      const dot = make('circle', { cx: X(nd[0]), cy: Y(nd[1], c.up), r: r, fill: color, stroke: '#6f8f96', 'stroke-width': 0.9 }, g);
      
      
    });
  });
  if (bottom) {
    const extra = make('circle', { cx: X(510), cy: Y(52), r: 4.8, fill: P.b, stroke: '#6f8f96', 'stroke-width': 0.9 }, g);
    
    
  } else {
    const lone = make('circle', { cx: X(1466), cy: Y(1076), r: 1.9, fill: goColors[13], stroke: '#6f8f96', 'stroke-width': 0.8 }, g);
    
    
  }
}
drawGoNetwork('go-network-top', false);
drawGoNetwork('go-network-bottom', true);

/* ---------- GO legend ---------- */
(function () {
  const g = document.getElementById('go-legend');
  goTerms.forEach((term, i) => {
    const sw = make('rect', { x: 642.3, y: 1040 + goLegendSwatchRow[i] / 3 - 8.3, width: 14.4, height: 16.6, fill: goColors[i] }, g);
    
    
    const t = make('text', { x: 663, y: 1040 + goLegendTextRow[i] / 3 + 7.5, 'font-size': 22.1 }, g, term);
    
    
  });
})();
</script>
</body>
</html>
